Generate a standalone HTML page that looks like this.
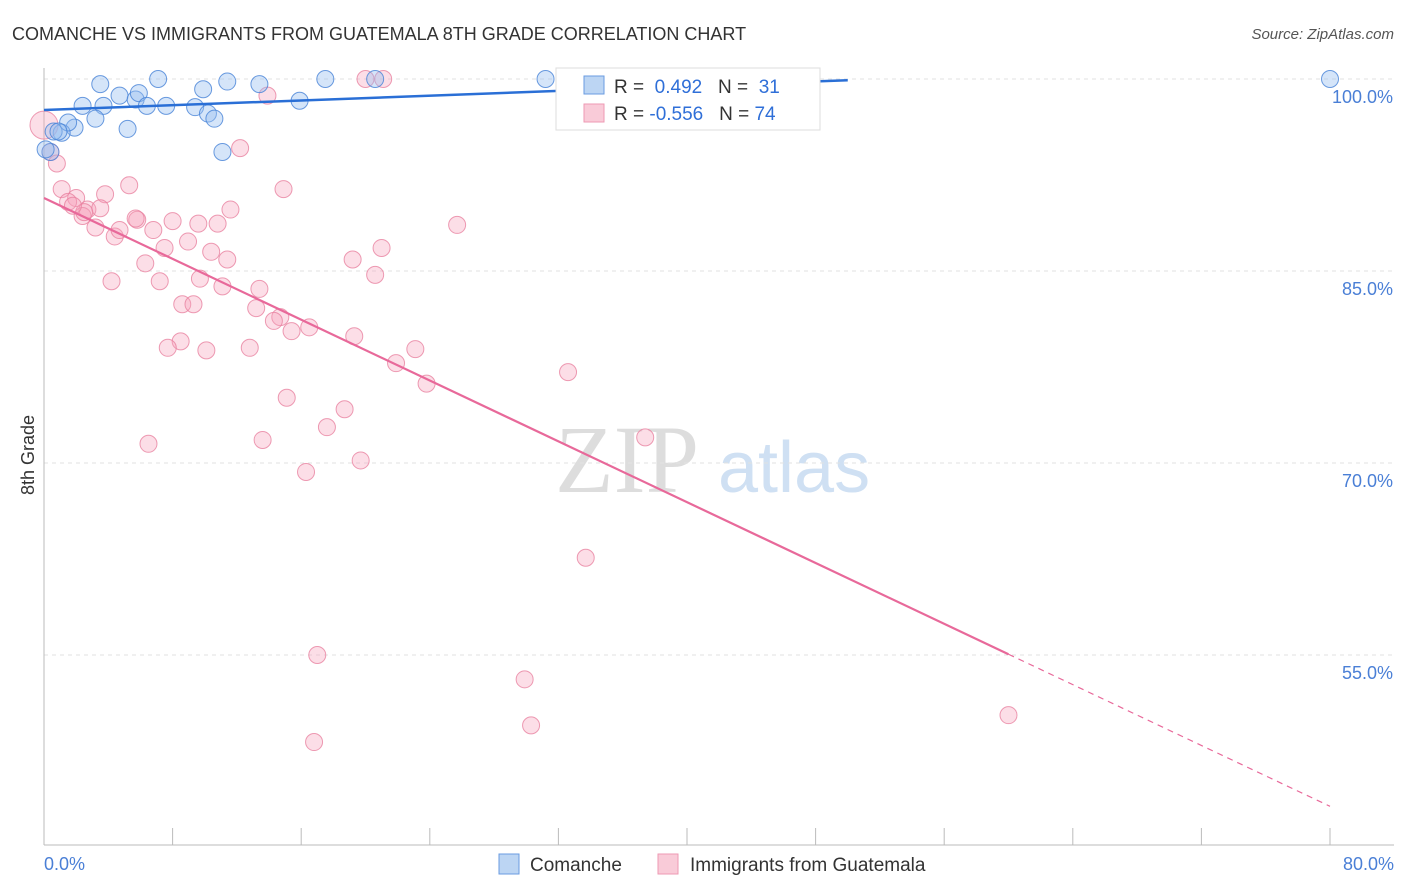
<!DOCTYPE html>
<html><head><meta charset="utf-8"><style>
body{margin:0;background:#fff;font-family:"Liberation Sans",sans-serif}
</style></head><body>
<svg id="c" width="1406" height="892" style="position:absolute;left:0;top:0">
<text x="12" y="40" font-size="18" fill="#333">COMANCHE VS IMMIGRANTS FROM GUATEMALA 8TH GRADE CORRELATION CHART</text>
<text x="1394" y="39" font-size="15" fill="#555" font-style="italic" text-anchor="end">Source: ZipAtlas.com</text>
<text x="555" y="492" font-size="96" fill="#ddd" font-family="Liberation Serif">ZIP</text>
<text x="718" y="492" font-size="72" fill="#cfe0f3">atlas</text>
<text transform="translate(34,455) rotate(-90)" font-size="18" fill="#333" text-anchor="middle">8th Grade</text>
<g id="grid"></g><g id="pts"></g><g id="lines"></g>
<g>
<rect x="556" y="68" width="264" height="62" fill="#fff" stroke="#ddd"/>
<rect x="584" y="76" width="20" height="18" fill="#bcd5f3" stroke="#6a9be0"/>
<rect x="584" y="104" width="20" height="18" fill="#f9cbd8" stroke="#ee9ab3"/>
<text x="614" y="93" font-size="19" fill="#333">R = <tspan fill="#2f6fd8">&#160;0.492</tspan>&#160;&#160;&#160;N = <tspan fill="#2f6fd8">&#160;31</tspan></text>
<text x="614" y="120" font-size="19" fill="#333">R = <tspan fill="#2f6fd8">-0.556</tspan>&#160;&#160;&#160;N = <tspan fill="#2f6fd8">74</tspan></text>
</g>
<g>
<rect x="499" y="854" width="20" height="20" fill="#bcd5f3" stroke="#6a9be0"/>
<text x="530" y="871" font-size="19" fill="#333">Comanche</text>
<rect x="658" y="854" width="20" height="20" fill="#f9cbd8" stroke="#ee9ab3"/>
<text x="690" y="871" font-size="19" fill="#333">Immigrants from Guatemala</text>
</g>
</svg>
<script>
const yTicks=[100,85,70,55];
const xTickLabels=["0.0%","80.0%"];
const blueX=[3.5,7.1,11.4,13.4,17.5,20.6,31.2,80,2.4,3.7,4.7,5.7,5.9,6.4,7.6,9.4,9.9,10.2,10.6,11.1,15.9,5.2,3.2,1.9,1.1,0.6,0.4,1.5,33.3,0.9,0.1];
const blueY=[99.6,100,99.8,99.6,100,100,100,100,97.9,97.9,98.7,98.4,98.9,97.9,97.9,97.8,99.2,97.3,96.9,94.3,98.3,96.1,96.9,96.2,95.8,95.9,94.3,96.6,99.9,95.9,94.5];
const pinkX=[0,0.4,0.8,13.9,12.2,20,21.1,36.6,1.1,2.0,3.8,5.3,1.5,2.7,3.5,2.4,3.2,4.4,4.7,5.8,6.8,8,9.6,10.8,11.6,14.9,25.7,6.3,7.5,8.96,10.4,11.4,9.7,7.2,4.2,8.6,9.3,11.1,13.4,13.2,14.7,14.3,15.4,16.5,19.3,19.2,21,20.6,8.5,7.7,10.1,12.8,21.9,23.1,23.8,32.6,6.5,15.1,17.6,18.7,13.6,16.3,19.7,37.4,33.7,17,29.9,30.3,16.8,60,5.7,2.5,1.8];
const pinkY=[96.4,94.3,93.4,98.7,94.6,100,100,99.9,91.4,90.7,91,91.7,90.4,89.8,89.9,89.3,88.4,87.7,88.2,89,88.2,88.9,88.7,88.7,89.8,91.4,88.6,85.6,86.8,87.3,86.5,85.9,84.4,84.2,84.2,82.4,82.4,83.8,83.6,82.1,81.4,81.1,80.3,80.6,79.9,85.9,86.8,84.7,79.5,79,78.8,79,77.8,78.9,76.2,77.1,71.5,75.1,72.8,74.2,71.8,69.3,70.2,72,62.6,55,53.1,49.5,48.2,50.3,89.1,89.6,90.1];
const xs=v=>44+v/80*1286, ys=v=>79+(100-v)*12.8;
const NS="http://www.w3.org/2000/svg";
function mk(t,a,p){const e=document.createElementNS(NS,t);for(const k in a)e.setAttribute(k,a[k]);document.getElementById(p).appendChild(e);return e;}
const g=document.getElementById('grid');
yTicks.forEach(t=>{
 const l=mk('line',{x1:44,x2:1394,y1:ys(t),y2:ys(t),stroke:'#e2e2e2','stroke-dasharray':'4,4'},'grid');
 
 
 const tx=mk('text',{x:1393,y:ys(t)+24,'font-size':18,fill:'#4a7fd6','text-anchor':'end'},'grid');tx.textContent=t.toFixed(1)+'%';
 
 
});
let ax=mk('line',{x1:44,x2:44,y1:68,y2:845,stroke:'#bbb'},'grid');


ax=mk('line',{x1:44,x2:1394,y1:845,y2:845,stroke:'#bbb'},'grid');


for(let i=0;i<=10;i++){const t=mk('line',{x1:xs(i*8),x2:xs(i*8),y1:828,y2:845,stroke:'#bbb'},'grid');
 
 }
[[0,'start',44],[80,'end',1394]].forEach((d,i)=>{const t=mk('text',{x:d[2],y:870,'font-size':18,fill:'#4a7fd6','text-anchor':d[1]},'grid');t.textContent=xTickLabels[i];
 
 });
pinkX.forEach((x,i)=>{const c=mk('circle',{cx:xs(x),cy:ys(pinkY[i]),r:i==0?14:8.5,fill:'rgba(245,160,185,0.35)',stroke:'rgba(232,130,160,0.8)'},'pts');
 
 });
blueX.forEach((x,i)=>{const c=mk('circle',{cx:xs(x),cy:ys(blueY[i]),r:8.5,fill:'rgba(150,190,240,0.4)',stroke:'rgba(70,130,215,0.8)'},'pts');
 
 });
const bl=x=>97.58+x*0.0465, pl=x=>90.7-x*0.594;
let L=mk('line',{x1:xs(0),y1:ys(bl(0)),x2:xs(50),y2:ys(bl(50)),stroke:'#2a6fd6','stroke-width':2.5},'lines');


L=mk('line',{x1:xs(0),y1:ys(pl(0)),x2:xs(60),y2:ys(pl(60)),stroke:'#e8699a','stroke-width':2.2},'lines');


L=mk('line',{x1:xs(60),y1:ys(pl(60)),x2:xs(80),y2:ys(pl(80)),stroke:'#e8699a','stroke-width':1.2,'stroke-dasharray':'6,5'},'lines');


</script>
</body></html>
